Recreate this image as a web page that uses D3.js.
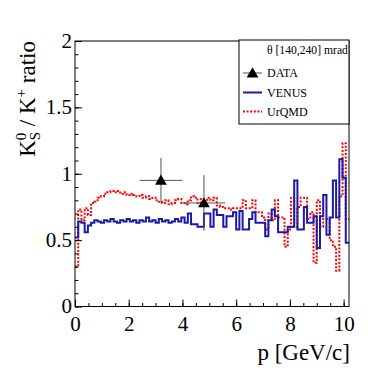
<!DOCTYPE html>
<html><head><meta charset="utf-8">
<script src="https://cdn.jsdelivr.net/npm/d3@7"></script>
<style>body{margin:0;background:#fff}svg{display:block}</style>
</head><body>
<svg id="c" width="374" height="378"></svg>
<script>
// ---- data ----
const pMin = 0, pMax = 10.2, binWidth = 0.12;
const venus = [0.52,0.64,0.63,0.56,0.61,0.63,0.65,0.64,0.63,0.65,
  0.64,0.66,0.64,0.63,0.65,0.64,0.66,0.64,0.65,0.63,
  0.65,0.64,0.67,0.64,0.65,0.63,0.66,0.64,0.65,0.63,
  0.64,0.66,0.64,0.67,0.63,0.70,0.62,0.62,0.60,0.60,
  0.70,0.70,0.60,0.73,0.69,0.69,0.60,0.68,0.68,0.71,
  0.58,0.72,0.58,0.58,0.66,0.71,0.63,0.63,0.63,0.53,
  0.65,0.73,0.68,0.56,0.56,0.56,0.60,0.60,0.95,0.58,
  0.58,0.75,0.63,0.63,0.68,0.44,0.68,0.84,0.54,0.67,
  0.95,0.67,1.11,0.97,0.48];
const urqmd = [0.30,0.73,0.65,0.74,0.69,0.78,0.79,0.82,0.83,0.85,
  0.86,0.87,0.86,0.87,0.85,0.86,0.84,0.85,0.84,0.83,
  0.84,0.82,0.83,0.81,0.82,0.80,0.79,0.78,0.80,0.77,
  0.78,0.80,0.81,0.78,0.77,0.80,0.83,0.82,0.78,0.81,
  0.79,0.82,0.80,0.82,0.76,0.75,0.74,0.74,0.73,0.74,
  0.74,0.74,0.80,0.74,0.74,0.80,0.71,0.71,0.67,0.58,
  0.70,0.65,0.80,0.67,0.67,0.45,0.58,0.82,0.60,0.75,
  0.82,0.82,0.66,0.71,0.33,0.80,0.60,0.66,0.66,0.50,
  0.45,0.27,0.83,1.23,0.66];
const dataP = [3.2, 4.8];
const dataPErr = [0.8, 0.8];
const dataR = [0.95, 0.78];
const dataRErr = [0.17, 0.21];
const xTicks = [0, 2, 4, 6, 8, 10];
const yTicks = [0, 0.5, 1, 1.5, 2];
const yTickLabels = ["0", "0.5", "1", "1.5", "2"];
const legendTitle = "θ [140,240] mrad";
const legendLabels = ["DATA", "VENUS", "UrQMD"];

// ---- layout ----
const L = 75, R = 349, T = 41, B = 306.5;
const svg = d3.select("#c");
const x = d3.scaleLinear([pMin, pMax], [L, R]);
const y = d3.scaleLinear([0, 2], [B, T]);
const serif = "Liberation Serif";

svg.append("defs").append("clipPath").attr("id","clip")
  .append("rect").attr("x",L).attr("y",T).attr("width",R-L).attr("height",B-T);

function stepPoints(vals){
  const pts = [];
  vals.forEach((v,i)=>{ pts.push([pMin+i*binWidth, v]); pts.push([pMin+(i+1)*binWidth, v]); });
  return pts;
}
const line = d3.line().x(d=>x(d[0])).y(d=>y(d[1]));

const g = svg.append("g").attr("clip-path","url(#clip)");
g.append("path").attr("d", line(stepPoints(urqmd)))
  .attr("fill","none").attr("stroke","#ff0000").attr("stroke-width",2)
  .attr("stroke-dasharray","2,1.6");
g.append("path").attr("d", line(stepPoints(venus)))
  .attr("fill","none").attr("stroke","#1a1aa6").attr("stroke-width",2);

// data points
const tri = d3.symbol().type(d3.symbolTriangle).size(60);
dataP.forEach((p,i)=>{
  svg.append("line").attr("x1",x(p-dataPErr[i])).attr("x2",x(p+dataPErr[i]))
    .attr("y1",y(dataR[i])).attr("y2",y(dataR[i])).attr("stroke","#555").attr("stroke-width",1);
  svg.append("line").attr("x1",x(p)).attr("x2",x(p))
    .attr("y1",y(dataR[i]-dataRErr[i])).attr("y2",y(dataR[i]+dataRErr[i])).attr("stroke","#555").attr("stroke-width",1);
  svg.append("path").attr("d",tri).attr("transform",`translate(${x(p)},${y(dataR[i])+1})`).attr("fill","#000");
});

// frame
svg.append("rect").attr("x",L).attr("y",T).attr("width",R-L).attr("height",B-T)
  .attr("fill","none").attr("stroke","#000").attr("stroke-width",1);

// axes ticks
const ax = svg.append("g");
ax.append("g").attr("transform",`translate(0,${B})`)
  .call(d3.axisBottom(x).tickValues(d3.range(0,10.01,0.5)).tickSize(-3.5).tickFormat(""))
  .call(s=>s.select(".domain").remove());
ax.append("g").attr("transform",`translate(0,${B})`)
  .call(d3.axisBottom(x).tickValues(xTicks).tickSize(-7).tickPadding(10).tickFormat(d3.format("d")))
  .call(s=>s.select(".domain").remove());
ax.append("g").attr("transform",`translate(${L},0)`)
  .call(d3.axisLeft(y).tickValues(d3.range(0,2.001,0.1)).tickSize(-3.5).tickFormat(""))
  .call(s=>s.select(".domain").remove());
ax.append("g").attr("class","yax").attr("transform",`translate(${L},0)`)
  .call(d3.axisLeft(y).tickValues(yTicks).tickSize(-7).tickPadding(3).tickFormat((d,i)=>yTickLabels[i]))
  .call(s=>s.select(".domain").remove());
ax.selectAll("g").attr("font-family",null).attr("font-size",null);
ax.selectAll("text").style("font-family",serif).style("font-size","21px").attr("fill","#000");
ax.selectAll(".yax text").attr("dy","0.3em");
ax.selectAll("text").filter(function(){return !this.closest(".yax");}).attr("dy","0.68em");
ax.selectAll("line").attr("stroke","#000");

// axis titles
svg.append("text").attr("x",350).attr("y",360).attr("text-anchor","end")
  .style("font-family",serif).style("font-size","23px").text("p [GeV/c]");
const yt = svg.append("text").attr("transform","translate(35,41) rotate(-90)")
  .attr("text-anchor","end").style("font-family",serif).style("font-size","23px");
yt.append("tspan").text("K");
yt.append("tspan").style("font-size","15px").attr("dy",-9).text("0");
yt.append("tspan").style("font-size","15px").attr("dx",-7.5).attr("dy",14).text("S");
yt.append("tspan").attr("dy",-5).text(" / K");
yt.append("tspan").style("font-size","15px").attr("dy",-9).text("+");
yt.append("tspan").attr("dy",9).text(" ratio");

// legend
const lg = svg.append("g");
lg.append("rect").attr("x",239).attr("y",40).attr("width",110).attr("height",84)
  .attr("fill","#fff").attr("stroke","#000").attr("stroke-width",1);
const lt = lg.append("text").attr("x",267).attr("y",54).style("font-family",serif).style("font-size","10px").text(legendTitle);
const w10 = lt.node().getComputedTextLength();
lt.style("font-size", (10*81/w10).toFixed(2)+"px");
const rows = [73, 92.5, 111.5];
lg.append("line").attr("x1",243).attr("x2",262).attr("y1",rows[0]).attr("y2",rows[0]).attr("stroke","#555");
lg.append("path").attr("d",tri).attr("transform",`translate(252.5,${rows[0]+1})`).attr("fill","#000");
lg.append("line").attr("x1",243).attr("x2",262).attr("y1",rows[1]).attr("y2",rows[1]).attr("stroke","#1a1aa6").attr("stroke-width",2);
lg.append("line").attr("x1",243).attr("x2",262).attr("y1",rows[2]).attr("y2",rows[2]).attr("stroke","#ff0000").attr("stroke-width",2).attr("stroke-dasharray","2,1.6");
legendLabels.forEach((t,i)=>{
  lg.append("text").attr("x",267).attr("y",rows[i]+4).style("font-family",serif).style("font-size","12px").text(t);
});
</script>
</body></html>
